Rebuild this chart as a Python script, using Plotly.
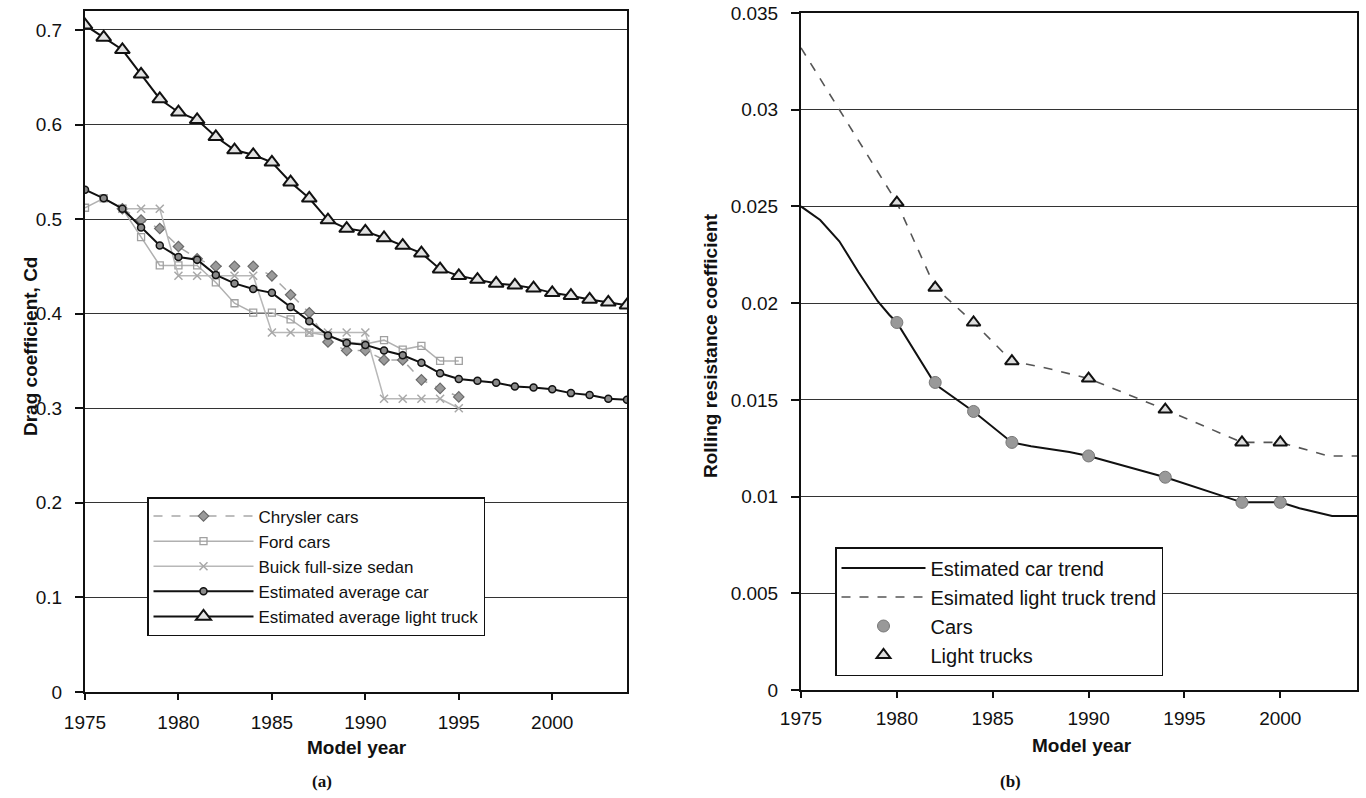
import plotly.graph_objects as go

# ---------------- data: panel (a) drag coefficient ----------------
years = list(range(1975, 2005))
truck_cd = [0.705, 0.692, 0.679, 0.653, 0.627, 0.613, 0.605, 0.587, 0.573, 0.568,
            0.560, 0.539, 0.522, 0.499, 0.490, 0.487, 0.480, 0.472, 0.464, 0.447,
            0.440, 0.436, 0.432, 0.430, 0.427, 0.422, 0.419, 0.415, 0.412, 0.409]
car_cd = [0.531, 0.522, 0.511, 0.491, 0.472, 0.460, 0.457, 0.441, 0.432, 0.426,
          0.422, 0.407, 0.392, 0.377, 0.369, 0.367, 0.361, 0.356, 0.348, 0.337,
          0.331, 0.329, 0.327, 0.323, 0.322, 0.320, 0.316, 0.314, 0.310, 0.309]

chrysler_years = list(range(1977, 1996))
chrysler_cd = [0.511, 0.499, 0.490, 0.471, 0.458, 0.450, 0.450, 0.450, 0.440, 0.420,
               0.401, 0.370, 0.361, 0.361, 0.351, 0.351, 0.330, 0.321, 0.312]

ford_years = list(range(1975, 1996))
ford_cd = [0.512, 0.522, 0.511, 0.481, 0.451, 0.451, 0.451, 0.433, 0.411, 0.401,
           0.401, 0.394, 0.380, 0.377, 0.370, 0.368, 0.372, 0.362, 0.366, 0.350, 0.350]

buick_years = list(range(1977, 1996))
buick_cd = [0.511, 0.511, 0.511, 0.440, 0.440, 0.440, 0.440, 0.440, 0.380, 0.380,
            0.380, 0.380, 0.380, 0.380, 0.310, 0.310, 0.310, 0.310, 0.300]

# ---------------- data: panel (b) rolling resistance ----------------
car_trend_years = [1975, 1976, 1977, 1978, 1979, 1979.6, 1980, 1982, 1984, 1986, 1987,
                   1989, 1990, 1994, 1998, 2000, 2001, 2002.7, 2004]
car_trend = [0.0250, 0.0243, 0.0232, 0.0216, 0.0201, 0.0194, 0.0190, 0.0158, 0.0144,
             0.0128, 0.0126, 0.0123, 0.0121, 0.0110, 0.0097, 0.0097, 0.0094, 0.0090, 0.0090]

truck_trend_years = [1975, 1980, 1982, 1984, 1986, 1988, 1990, 1994, 1998, 2000, 2002.5, 2004]
truck_trend = [0.0332, 0.0252, 0.0208, 0.0190, 0.0170, 0.0166, 0.0161, 0.0145, 0.0128,
               0.0128, 0.0121, 0.0121]

rr_years = [1980, 1982, 1984, 1986, 1990, 1994, 1998, 2000]
rr_cars = [0.0190, 0.0159, 0.0144, 0.0128, 0.0121, 0.0110, 0.0097, 0.0097]
rr_trucks = [0.0252, 0.0208, 0.0190, 0.0170, 0.0161, 0.0145, 0.0128, 0.0128]

# ---------------- tick labels ----------------
x_ticks = [1975, 1980, 1985, 1990, 1995, 2000]
cd_ticks = [0, 0.1, 0.2, 0.3, 0.4, 0.5, 0.6, 0.7]
cd_tick_text = ["0", "0.1", "0.2", "0.3", "0.4", "0.5", "0.6", "0.7"]
rr_ticks = [0, 0.005, 0.01, 0.015, 0.02, 0.025, 0.03, 0.035]
rr_tick_text = ["0", "0.005", "0.01", "0.015", "0.02", "0.025", "0.03", "0.035"]

FONT = "Liberation Sans, Arial, Helvetica, sans-serif"
W, H = 1366, 798
OFF = 0  # page body margin removed via post_script


def px(x):
    return (x - OFF) / W


def py(y):
    return 1 - (y - OFF) / H


fig = go.Figure()

# ---- panel (a) ----
fig.add_trace(go.Scatter(
    x=chrysler_years, y=chrysler_cd, name="Chrysler cars", mode="lines+markers",
    line=dict(color="#a8a8a8", width=1.5, dash="dash"),
    marker=dict(symbol="diamond", size=8, color="#9a9a9a", line=dict(color="#6a6a6a", width=1.2)),
    xaxis="x", yaxis="y", legend="legend"))
fig.add_trace(go.Scatter(
    x=ford_years, y=ford_cd, name="Ford cars", mode="lines+markers",
    line=dict(color="#b0b0b0", width=1.5),
    marker=dict(symbol="square-open", size=7, color="#a0a0a0", line=dict(width=1.3)),
    xaxis="x", yaxis="y", legend="legend"))
fig.add_trace(go.Scatter(
    x=buick_years, y=buick_cd, name="Buick full-size sedan", mode="lines+markers",
    line=dict(color="#b8b8b8", width=1.5),
    marker=dict(symbol="x-thin-open", size=8, color="#a8a8a8", line=dict(color="#a8a8a8", width=1.5)),
    xaxis="x", yaxis="y", legend="legend"))
fig.add_trace(go.Scatter(
    x=years, y=car_cd, name="Estimated average car", mode="lines+markers",
    line=dict(color="#111111", width=2),
    marker=dict(symbol="circle", size=7, color="#8a8a8a", line=dict(color="#111111", width=1.5)),
    xaxis="x", yaxis="y", legend="legend"))
fig.add_trace(go.Scatter(
    x=years, y=truck_cd, name="Estimated average light truck", mode="lines+markers",
    line=dict(color="#111111", width=2),
    marker=dict(symbol="triangle-up", size=13, color="#e2e2e2", line=dict(color="#111111", width=2)),
    xaxis="x", yaxis="y", legend="legend"))

# ---- panel (b) ----
fig.add_trace(go.Scatter(
    x=car_trend_years, y=car_trend, name="Estimated car trend", mode="lines",
    line=dict(color="#111111", width=2),
    xaxis="x2", yaxis="y2", legend="legend2"))
fig.add_trace(go.Scatter(
    x=truck_trend_years, y=truck_trend, name="Esimated light truck trend", mode="lines",
    line=dict(color="#555555", width=1.6, dash="dash"),
    xaxis="x2", yaxis="y2", legend="legend2"))
fig.add_trace(go.Scatter(
    x=rr_years, y=rr_cars, name="Cars", mode="markers",
    marker=dict(symbol="circle", size=12, color="#999999", line=dict(color="#777777", width=1)),
    xaxis="x2", yaxis="y2", legend="legend2"))
fig.add_trace(go.Scatter(
    x=rr_years, y=rr_trucks, name="Light trucks", mode="markers",
    marker=dict(symbol="triangle-up", size=12, color="#dddddd", line=dict(color="#111111", width=2)),
    xaxis="x2", yaxis="y2", legend="legend2"))

axis_common = dict(
    showline=True, linecolor="#111111", linewidth=2, mirror=True,
    ticks="outside", tickcolor="#111111", tickwidth=1.5,
    tickfont=dict(family=FONT, size=19, color="#111111"),
    zeroline=False, automargin=False, ticklabeloverflow="allow",
)

fig.update_layout(
    width=W, height=H,
    margin=dict(l=0, r=0, t=0, b=0, autoexpand=False),
    paper_bgcolor="white", plot_bgcolor="white",
    font=dict(family=FONT, color="#111111"),
    xaxis=dict(domain=[px(85), px(627)], range=[1975, 2004], tickvals=x_ticks,
               ticklen=6, showgrid=False, anchor="y", ticklabelstandoff=6, **axis_common),
    yaxis=dict(domain=[py(692), py(11)], range=[0, 0.72], tickmode="array",
               tickvals=cd_ticks, ticktext=cd_tick_text,
               ticklen=8, showgrid=True, gridcolor="#333333", gridwidth=1, anchor="x",
               ticklabelstandoff=9, **axis_common),
    xaxis2=dict(domain=[px(801), px(1357)], range=[1975, 2004], tickvals=x_ticks,
                ticklen=6, showgrid=False, anchor="y2", ticklabelstandoff=4, **axis_common),
    yaxis2=dict(domain=[py(690), py(13)], range=[0, 0.035], tickmode="array",
                tickvals=rr_ticks, ticktext=rr_tick_text,
                ticklen=8, showgrid=True, gridcolor="#333333", gridwidth=1, anchor="x2",
                ticklabelstandoff=9, **axis_common),
    legend=dict(x=px(147), y=py(497), xanchor="left", yanchor="top",
                bgcolor="white", bordercolor="#111111", borderwidth=1.5,
                font=dict(family=FONT, size=17, color="#111111"),
                itemwidth=100, traceorder="normal"),
    legend2=dict(x=px(835), y=py(547), xanchor="left", yanchor="top",
                 bgcolor="white", bordercolor="#111111", borderwidth=1.5,
                 font=dict(family=FONT, size=20, color="#111111"),
                 itemwidth=84, traceorder="normal"),
    showlegend=True,
)

title_font = dict(family=FONT, size=19, color="#111111")
annotations = [
    dict(text="<b>Drag coefficient, Cd</b>", x=px(30), y=py(347), textangle=-90),
    dict(text="<b>Rolling resistance coefficient</b>", x=px(711), y=py(345), textangle=-90),
    dict(text="<b>Model year</b>", x=px(357), y=py(747)),
    dict(text="<b>Model year</b>", x=px(1082), y=py(745)),
]
for a in annotations:
    fig.add_annotation(xref="paper", yref="paper", showarrow=False,
                       xanchor="center", yanchor="middle", font=title_font, **a)
for txt, xc in [("(a)", 322), ("(b)", 1010)]:
    fig.add_annotation(xref="paper", yref="paper", showarrow=False, text="<b>" + txt + "</b>",
                       x=px(xc), y=py(781), xanchor="center", yanchor="middle",
                       font=dict(family="Liberation Serif, Times New Roman, serif", size=17, color="#111111"))

fig.write_html("out.html", config={"displayModeBar": False},
               post_script="document.body.style.margin='0';document.body.style.overflow='hidden';")
